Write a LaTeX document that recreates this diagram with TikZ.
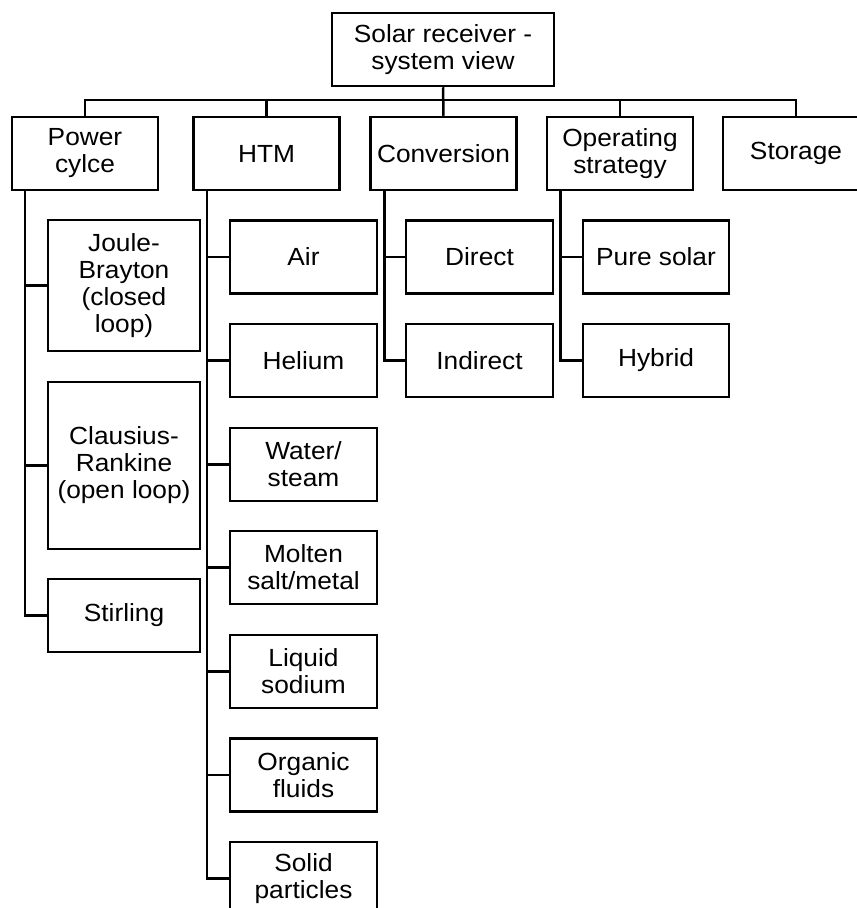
\documentclass[tikz,border=0pt]{standalone}
\usepackage{fontspec}
\setmainfont{Liberation Sans}[FakeStretch=1.06]
\begin{document}
\begin{tikzpicture}[x=1pt,y=-1pt,
  box/.style={draw,line width=2.5pt,inner sep=0pt,align=center,
    font=\fontsize{24.8}{27}\selectfont, minimum width=146pt, minimum height=73pt},
  conn/.style={line width=2.5pt}]
\useasboundingbox (0,0) rectangle (857,908);
\clip (0,0) rectangle (857,908);
% root
\node[box,minimum width=222pt] (root) at (443,49.5) {Solar receiver -\\system view};
% level 1
\node[box] (pc) at (85,153.5) {Power\\cylce};
\node[box] (htm) at (266.5,153.5) {HTM};
\node[box] (conv) at (443.5,153.5) {Conversion};
\node[box] (op) at (620,153.5) {Operating\\strategy};
\node[box] (sto) at (796,153.5) {Storage};
% bus
\draw[conn] (pc.north) -- ++(0,-16) -| (sto.north);
\draw[conn] (root.south) -- (conv.north);
\draw[conn] (htm.north) -- ++(0,-16);
\draw[conn] (op.north) -- ++(0,-16);
% power cycle children
\node[box,minimum width=152pt,minimum height=131pt] (jb) at (124,285.5) {Joule-\\Brayton\\(closed\\loop)};
\node[box,minimum width=152pt,minimum height=167pt] (cr) at (124,465.5) {Clausius-\\Rankine\\(open loop)};
\node[box,minimum width=152pt] (stir) at (124,615.5) {Stirling};
\coordinate (pct) at ([xshift=14pt]pc.south west);
\draw[conn] (pct) |- (stir.west);
\draw[conn] (pct |- jb.west) -- (jb.west);
\draw[conn] (pct |- cr.west) -- (cr.west);
% HTM children
\node[box,minimum width=147pt] (air) at (303.5,257) {Air};
\node[box,minimum width=147pt] (he) at (303.5,360.5) {Helium};
\node[box,minimum width=147pt] (ws) at (303.5,464.5) {Water/\\steam};
\node[box,minimum width=147pt] (ms) at (303.5,567.5) {Molten\\salt/metal};
\node[box,minimum width=147pt] (ls) at (303.5,671.5) {Liquid\\sodium};
\node[box,minimum width=147pt] (of) at (303.5,775) {Organic\\fluids};
\node[box,minimum width=147pt] (sp) at (303.5,878.5) {Solid\\particles};
\coordinate (htmt) at ([xshift=14.7pt]htm.south west);
\draw[conn] (htmt) |- (sp.west);
\foreach \n in {air,he,ws,ms,ls,of}{\draw[conn] (htmt |- \n.west) -- (\n.west);}
% conversion children
\node[box,minimum width=147pt] (dir) at (479.5,257) {Direct};
\node[box,minimum width=147pt] (ind) at (479.5,360.5) {Indirect};
\coordinate (convt) at ([xshift=15pt]conv.south west);
\draw[conn] (convt) |- (ind.west);
\draw[conn] (convt |- dir.west) -- (dir.west);
% operating children
\node[box] (ps) at (656,257) {Pure solar};
\node[box] (hy) at (656,360.5) {Hybrid};
\coordinate (opt) at ([xshift=14.7pt]op.south west);
\draw[conn] (opt) |- (hy.west);
\draw[conn] (opt |- ps.west) -- (ps.west);
\end{tikzpicture}
\end{document}
